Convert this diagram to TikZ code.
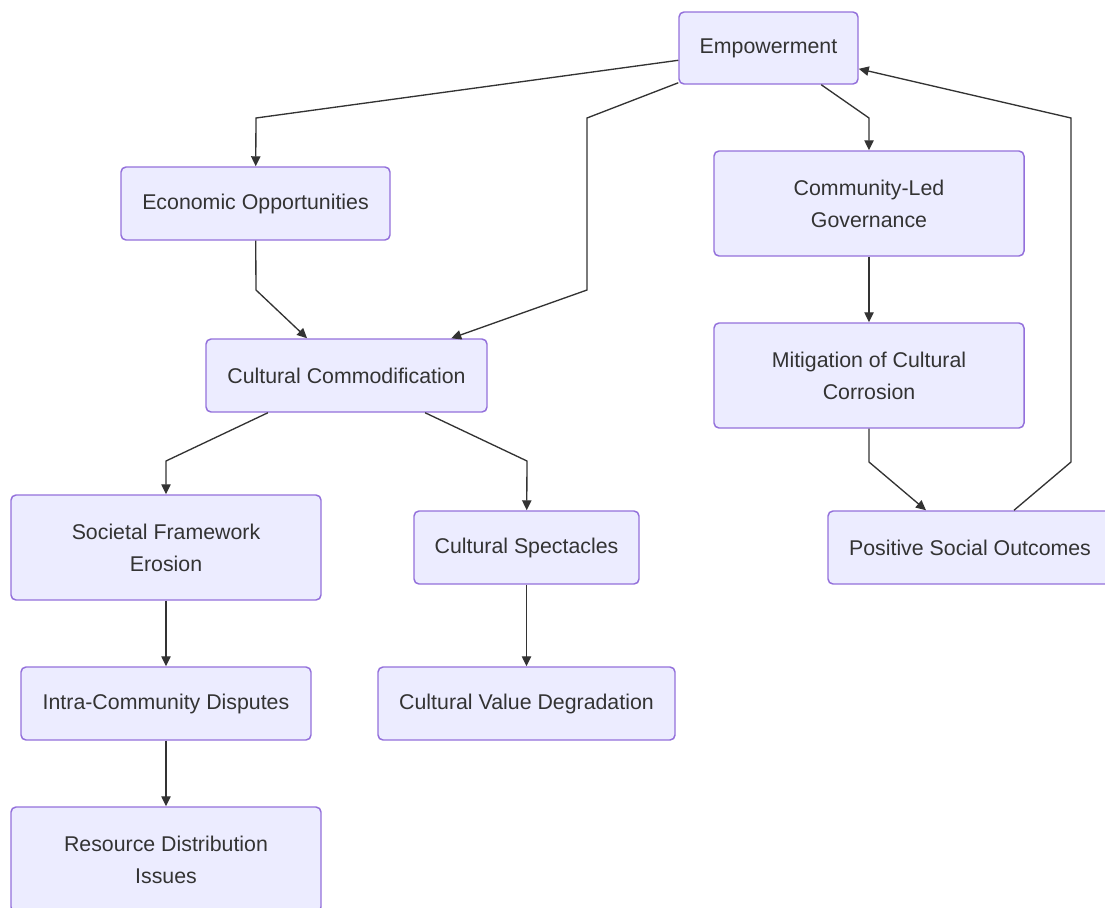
\documentclass[tikz,border=0pt]{standalone}
\usepackage{fontspec}
\setmainfont{Liberation Sans}
\usetikzlibrary{arrows.meta}
\definecolor{nodefill}{HTML}{ECECFF}
\definecolor{nodeline}{HTML}{9370DB}
\definecolor{ink}{HTML}{333333}
\tikzset{
  box/.style={draw=nodeline, fill=nodefill, line width=1.1pt, rounded corners=3.75pt,
    text=ink, align=center, inner sep=0pt, font=\fontsize{16}{24}\selectfont},
  sbox/.style={box, minimum height=54.75pt},
  tbox/.style={box, minimum width=232.5pt, minimum height=78.75pt},
  link/.style={draw=ink, line width=1pt, -{Triangle[length=7.5pt,width=7pt]}}
}
\begin{document}
\begin{tikzpicture}[x=0.75pt,y=-0.75pt]
\useasboundingbox (0,0) rectangle (1105,907);
% nodes
\node[box, minimum width=134.25pt, minimum height=54pt] (emp) at (768.5,48) {Empowerment};
\node[sbox, minimum width=201.75pt] (eco) at (255.5,203.5) {Economic Opportunities};
\node[tbox] (clg) at (869,203.5) {Community-Led\\Governance};
\node[sbox, minimum width=210.75pt] (cc) at (346.5,375.5) {Cultural Commodification};
\node[tbox] (mit) at (869,375.5) {Mitigation of Cultural\\Corrosion};
\node[tbox] (sfe) at (166,547.5) {Societal Framework\\Erosion};
\node[sbox, minimum width=168.75pt] (cs) at (526.5,547.5) {Cultural Spectacles};
\node[sbox, minimum width=213pt] (pso) at (970,547.5) {Positive Social Outcomes};
\node[sbox, minimum width=217.5pt] (icd) at (166,703.5) {Intra-Community Disputes};
\node[sbox, minimum width=222.75pt] (cvd) at (526.5,703.5) {Cultural Value Degradation};
\node[tbox] (rdi) at (166,859.5) {Resource Distribution\\Issues};
% bend points
\coordinate (b1) at (256,118);
\coordinate (b2) at (587,118);
\coordinate (b3) at (587,290);
\coordinate (b4) at (869,118);
\coordinate (b5) at (256,290);
\coordinate (b6) at (166,461);
\coordinate (b7) at (527,461);
\coordinate (b8) at (869,462);
\coordinate (b9) at (1071,462);
\coordinate (b10) at (1071,118);
% connectors
\draw[link] (emp) -- (b1) -- (eco);
\draw[link] (emp) -- (b2) -- (b3) -- (cc);
\draw[link] (emp) -- (b4) -- (clg);
\draw[link] (eco) -- (b5) -- (cc);
\draw[link] (clg) -- (mit);
\draw[link] (cc) -- (b6) -- (sfe);
\draw[link] (cc) -- (b7) -- (cs);
\draw[link] (mit) -- (b8) -- (pso);
\draw[link] (pso) -- (b9) -- (b10) -- (emp);
\draw[link] (sfe) -- (icd);
\draw[link] (cs) -- (cvd);
\draw[link] (icd) -- (rdi);
\end{tikzpicture}
\end{document}
